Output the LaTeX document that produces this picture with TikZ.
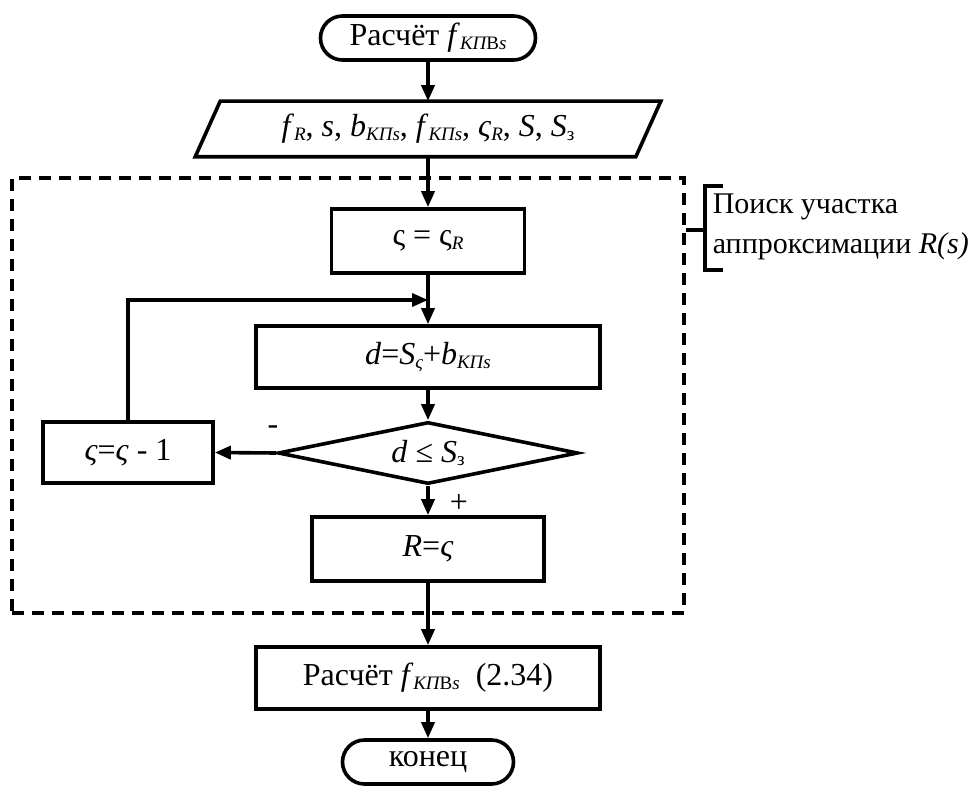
\documentclass[tikz,border=0pt]{standalone}
\usepackage{fontspec}
\setmainfont{Liberation Serif}
\usetikzlibrary{arrows.meta,shapes.geometric}
% small lowered indices
\newcommand\lsub[1]{\raisebox{-0.25ex}{\fontsize{9.5}{10}\selectfont\itshape #1}}
\newcommand\usub[1]{\raisebox{-0.25ex}{\fontsize{9.5}{10}\selectfont #1}}
\begin{document}
\begin{tikzpicture}[x=0.5pt,y=-0.5pt,
  font=\fontsize{16}{20}\selectfont,
  line width=1.8pt,
  flow/.style={-{Triangle[length=8pt,width=6.5pt]}},
  procbox/.style={draw, rectangle, inner sep=0pt},
  term/.style={draw, rectangle, rounded corners=11pt, inner sep=0pt},
  grpbox/.style={draw, dashed, dash pattern=on 6pt off 4pt, line width=1.6pt, inner sep=0pt},
]
\useasboundingbox (0,0) rectangle (973,791);

% group frame
\node[grpbox, minimum width=336pt, minimum height=217.5pt] (grp) at (348,395.5) {};

% main column
\node[term, minimum width=107.5pt, minimum height=22pt] (start) at (428,38)
  {Расчёт \textit{f}\lsub{КП}\usub{В}\lsub{s}};
\node[inner sep=0pt, minimum width=218.5pt, minimum height=26pt] (inp) at (428,129)
  {\textit{f}\lsub{R}, \textit{s}, \textit{b}\lsub{КПs}, \textit{f}\lsub{КПs}, \textit{ς}\lsub{R}, \textit{S}, \textit{S}\usub{з}};
\draw ([xshift=6.25pt]inp.north west) -- ([xshift=6.25pt]inp.north east)
   -- ([xshift=-6.25pt]inp.south east) -- ([xshift=-6.25pt]inp.south west) -- cycle;
\node[procbox, minimum width=96.5pt, minimum height=32pt] (init) at (428,241)
  {ς = ς\lsub{R}};
\node[procbox, minimum width=172pt, minimum height=31pt] (calc) at (428,357)
  {\textit{d}=\textit{S}\lsub{ς}+\textit{b}\lsub{КПs}};
\node[draw, diamond, aspect=4.8, inner sep=0pt, minimum width=150pt, minimum height=31pt] (cond) at (428,453)
  {\textit{d} ≤ \textit{S}\usub{з}};
\node[procbox, minimum width=85pt, minimum height=30.5pt] (dec) at (128,452.5)
  {\textit{ς}=\textit{ς} - 1};
\node[procbox, minimum width=116pt, minimum height=32pt] (res) at (428,549)
  {\textit{R}=\textit{ς}};
\node[procbox, minimum width=172pt, minimum height=31pt] (fin) at (428,678)
  {Расчёт \textit{f}\lsub{КП}\usub{В}\lsub{s}~~(2.34)};
\node[term, minimum width=85.5pt, minimum height=22pt] (stop) at (428,762)
  {конец};

% branch labels
\node (minus) at (273,430) {-};
\node (plus) at (459,503) {+};

% connectors
\draw[flow] (start) -- (inp.north);
\draw[flow] (inp.south) -- (init.north);
\draw[flow] (init.south) -- (calc.north);
\draw[flow] (calc.south) -- (cond.north);
\draw[flow] (cond.south) -- (res.north);
\draw[flow] (res.south) -- (fin.north);
\draw[flow] (fin.south) -- (stop.north);
\draw[flow] (cond.west) -- (dec.east);
\coordinate (loopin) at (428,300);
\draw[flow] (dec.north) |- (loopin);

% side bracket with its note
\coordinate (btop) at (705,186);
\coordinate (bbot) at (705,270);
\coordinate (bmid) at (705,230);
\draw ([xshift=9pt]btop) -- (btop) -- (bbot) -- ([xshift=9pt]bbot);
\draw (grp.east |- bmid) -- (bmid);
\node[anchor=west, align=left, inner sep=1pt, font=\fontsize{15}{20}\selectfont] (note) at (709,227)
  {Поиск участка\\аппроксимации \textit{R(s)}};
\end{tikzpicture}
\end{document}
